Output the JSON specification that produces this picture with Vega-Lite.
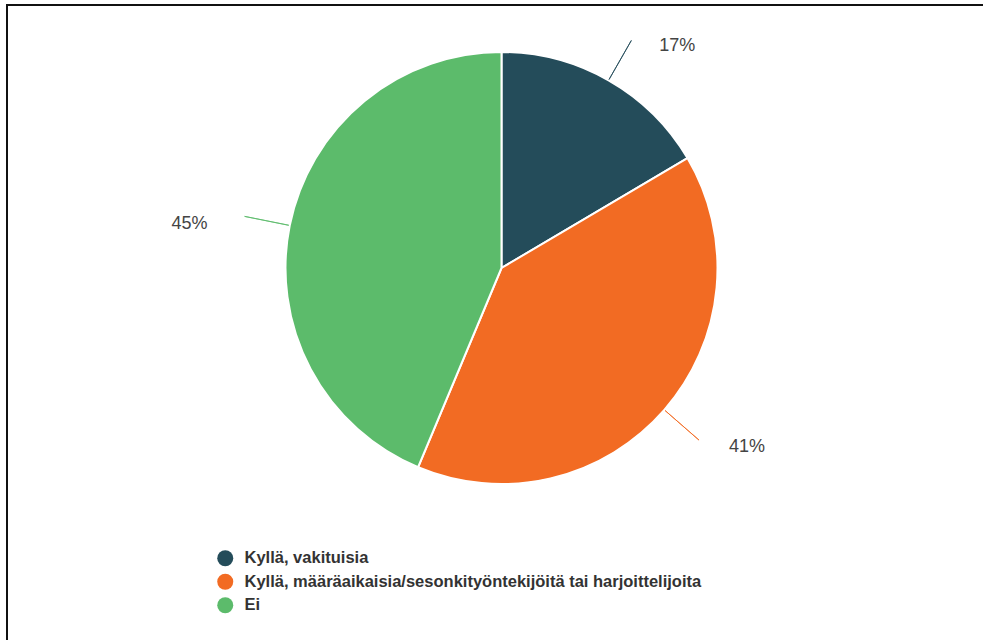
{
  "$schema": "https://vega.github.io/schema/vega-lite/v6.json",
  "width": 983,
  "height": 640,
  "autosize": {"type": "fit", "contains": "padding"},
  "padding": {"left": 7, "top": 5, "right": -5, "bottom": -5},
  "background": "white",
  "view": {"stroke": "#111111", "strokeWidth": 2, "fill": "white"},
  "config": {
    "view": {"stroke": "#111111", "strokeWidth": 2},
    "font": "Liberation Sans"
  },
  "data": {
    "values": [
      {"kat": "Kyllä, vakituisia", "osuus": 17, "idx": 1},
      {"kat": "Kyllä, määräaikaisia/sesonkityöntekijöitä tai harjoittelijoita", "osuus": 41, "idx": 2},
      {"kat": "Ei", "osuus": 45, "idx": 3}
    ]
  },
  "encoding": {
    "theta": {"field": "osuus", "type": "quantitative", "stack": true},
    "order": {"field": "idx", "type": "quantitative"},
    "color": {
      "field": "kat",
      "type": "nominal",
      "sort": ["Kyllä, vakituisia", "Kyllä, määräaikaisia/sesonkityöntekijöitä tai harjoittelijoita", "Ei"],
      "scale": {
        "domain": ["Kyllä, vakituisia", "Kyllä, määräaikaisia/sesonkityöntekijöitä tai harjoittelijoita", "Ei"],
        "range": ["#244C5A", "#F26B23", "#5CBB6B"]
      },
      "legend": {
        "title": null,
        "orient": "none",
        "legendX": 210,
        "legendY": 545,
        "symbolType": "circle",
        "symbolSize": 256,
        "symbolStrokeWidth": 0,
        "labelFont": "Liberation Sans",
        "labelFontSize": 16.5,
        "labelFontWeight": "bold",
        "labelColor": "#333333",
        "labelOffset": 11,
        "rowPadding": 6.5,
        "labelLimit": 800
      }
    }
  },
  "layer": [
    {
      "mark": {
        "type": "arc",
        "radius": 216,
        "stroke": "white",
        "strokeWidth": 2,
        "x": {"expr": "width/2 + 4"},
        "y": {"expr": "height/2 - 57"}
      }
    },
    {
      "mark": {
        "type": "arc",
        "radius": 262,
        "radius2": 217,
        "padAngle": 3,
        "filled": false,
        "strokeWidth": 1,
        "opacity": 0.85,
        "x": {"expr": "width/2 + 4"},
        "y": {"expr": "height/2 - 57"}
      }
    },
    {
      "transform": [{"calculate": "datum.osuus + '%'", "as": "label"}],
      "mark": {
        "type": "text",
        "radius": 262,
        "fontSize": 18,
        "baseline": "middle",
        "align": {"expr": "datum.kat == 'Ei' ? 'right' : 'left'"},
        "dx": {"expr": "datum.kat == 'Ei' ? -37 : (datum.idx == 1 ? 28 : 30)"},
        "dy": {"expr": "datum.kat == 'Ei' ? 8 : (datum.idx == 1 ? 6 : 7)"},
        "x": {"expr": "width/2 + 4"},
        "y": {"expr": "height/2 - 57"}
      },
      "encoding": {
        "text": {"field": "label", "type": "nominal"},
        "color": {"value": "#444444"}
      }
    }
  ]
}
